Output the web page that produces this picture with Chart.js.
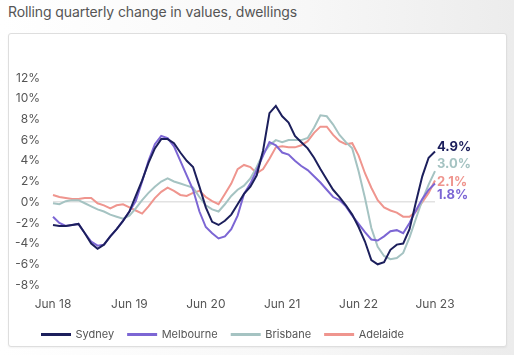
<!DOCTYPE html>
<html>
<head>
<meta charset="utf-8">
<script src="https://cdn.jsdelivr.net/npm/chart.js@4/dist/chart.umd.min.js"></script>
<style>
  html, body { margin: 0; padding: 0; }
  body { width: 514px; height: 355px; position: relative; overflow: hidden;
         background: linear-gradient(90deg, #ffffff 0%, #f7f7f7 60%, #ececec 100%); font-family: Inter, "Open Sans", sans-serif; }
  #title { position: absolute; left: 8px; top: 3px; font-size: 14px; color: #555; font-family: Inter, sans-serif; letter-spacing: -0.1px; }
  #box { position: absolute; left: 8px; top: 33px; width: 497px; height: 312px; background: #fff;
         border: 1px solid #dedede; border-radius: 3px; box-shadow: 0 1px 2px rgba(0,0,0,0.05); }
  #wrap { position: absolute; left: 0; top: 0; width: 514px; height: 355px; }
</style>
</head>
<body>
<div id="title">Rolling quarterly change in values, dwellings</div>
<div id="box"></div>
<div id="wrap"><canvas id="c" width="514" height="355"></canvas></div>
<script>
const months = [
  "Jun 18","Jul 18","Aug 18","Sep 18","Oct 18","Nov 18","Dec 18","Jan 19","Feb 19","Mar 19","Apr 19","May 19",
  "Jun 19","Jul 19","Aug 19","Sep 19","Oct 19","Nov 19","Dec 19","Jan 20","Feb 20","Mar 20","Apr 20","May 20",
  "Jun 20","Jul 20","Aug 20","Sep 20","Oct 20","Nov 20","Dec 20","Jan 21","Feb 21","Mar 21","Apr 21","May 21",
  "Jun 21","Jul 21","Aug 21","Sep 21","Oct 21","Nov 21","Dec 21","Jan 22","Feb 22","Mar 22","Apr 22","May 22",
  "Jun 22","Jul 22","Aug 22","Sep 22","Oct 22","Nov 22","Dec 22","Jan 23","Feb 23","Mar 23","Apr 23","May 23",
  "Jun 23"
];
const tickLabels = ["Jun 18","Jun 19","Jun 20","Jun 21","Jun 22","Jun 23"];
const yMin = -8, yMax = 12, yStep = 2;

const sydney = [
  -2.2,-2.3,-2.3,-2.2,-2.1,-3.0,-4.0,-4.5,-4.1,-3.3,-2.6,-1.8,
  -0.9,0.6,2.1,3.8,5.2,6.1,6.1,5.7,4.8,4.0,3.4,1.5,
  -0.5,-1.9,-2.2,-1.8,-1.2,-0.2,0.8,1.5,2.6,5.0,8.6,9.3,
  8.3,7.7,6.4,5.8,5.2,4.3,3.2,2.2,1.2,0.5,-0.3,-1.2,
  -2.4,-3.8,-5.6,-6.0,-5.8,-4.6,-4.1,-4.0,-2.6,0.0,2.5,4.3,
  4.9
];
const melbourne = [
  -1.4,-2.0,-2.3,-2.2,-2.1,-3.0,-3.8,-4.2,-4.1,-3.3,-2.6,-1.8,
  -0.9,0.1,2.0,4.0,5.6,6.4,6.2,5.4,4.0,2.6,1.2,-0.9,
  -2.4,-3.0,-3.5,-3.3,-2.6,-1.3,0.8,1.8,3.1,4.5,5.8,5.5,
  4.8,4.6,4.0,3.5,3.1,2.5,1.9,1.2,0.5,0.2,-0.4,-1.3,
  -2.1,-2.9,-3.6,-3.7,-3.3,-2.8,-2.7,-3.0,-2.0,-0.8,0.3,1.2,
  1.8
];
const brisbane = [
  -0.1,-0.2,0.1,0.2,0.2,-0.1,-0.4,-0.7,-0.9,-1.2,-1.4,-1.6,
  -1.3,-0.6,0.2,0.9,1.5,2.0,2.3,2.0,1.8,1.6,1.4,0.5,
  -0.3,-0.7,-0.9,-0.2,0.6,1.2,1.6,2.3,3.4,4.7,5.5,6.0,
  5.8,6.0,6.0,6.0,6.2,7.2,8.4,8.3,7.5,6.5,5.8,5.2,
  3.0,0.4,-2.5,-4.3,-5.2,-5.5,-5.4,-4.9,-3.4,-1.6,0.2,1.7,
  3.0
];
const adelaide = [
  0.7,0.5,0.4,0.3,0.3,0.4,0.4,-0.1,-0.3,-0.6,-0.3,-0.2,
  -0.5,-0.8,-1.1,-0.4,0.4,1.0,1.4,1.1,0.7,0.6,0.9,1.1,
  0.5,0.1,-0.2,0.8,1.8,3.2,3.6,3.4,2.8,3.2,4.2,5.3,
  5.4,5.3,5.3,5.5,5.9,6.7,7.3,7.3,6.5,5.9,5.6,5.7,
  4.5,2.8,1.4,0.2,-0.5,-0.8,-1.0,-1.4,-1.4,-0.9,0.0,0.9,
  2.1
];

const seriesNames = ["Sydney","Melbourne","Brisbane","Adelaide"];
const seriesColors = ["#1c1f5c","#7c66d4","#a5c3c2","#ef958e"];
const seriesData = [sydney, melbourne, brisbane, adelaide];
// vertical nudges (px) for the end-value labels: Sydney, Melbourne, Brisbane, Adelaide
const endLabelShift = [-4, 12, -7, 2];

const endLabels = {
  id: 'endLabels',
  afterDatasetsDraw(chart) {
    const ctx = chart.ctx;
    ctx.save();
    ctx.font = 'bold 13px Inter, sans-serif';
    ctx.textBaseline = 'middle';
    ctx.textAlign = 'left';
    chart.data.datasets.forEach((ds, i) => {
      const meta = chart.getDatasetMeta(i);
      const pt = meta.data[meta.data.length - 1];
      const v = ds.data[ds.data.length - 1];
      ctx.fillStyle = ds.borderColor;
      ctx.fillText(v.toFixed(1) + '%', pt.x + 2, pt.y + endLabelShift[i]);
    });
    ctx.restore();
  }
};

// nudge the legend to the right so it starts under the plot like the original
const legendShift = {
  id: 'legendShift',
  afterLayout(chart) {
    if (chart.legend) { chart.legend.left += 14; chart.legend.right += 14; }
  }
};

new Chart(document.getElementById('c'), {
  type: 'line',
  data: {
    labels: months,
    datasets: seriesNames.map((n, i) => ({
      label: n,
      data: seriesData[i],
      borderColor: seriesColors[i],
      backgroundColor: seriesColors[i],
      borderWidth: 2,
      pointRadius: 0,
      tension: 0,
      fill: false
    }))
  },
  options: {
    responsive: false,
    animation: false,
    events: [],
    layout: { padding: { left: 14, right: 79, top: 78, bottom: 5 } },
    plugins: {
      title: { display: false },
      tooltip: { enabled: false },
      legend: {
        position: 'bottom',
        align: 'start',
        labels: {
          boxWidth: 28,
          boxHeight: 1,
          padding: 14,
          color: '#555',
          font: { family: 'Inter, sans-serif', size: 11 }
        }
      }
    },
    scales: {
      x: {
        grid: { display: false, drawTicks: false },
        border: { display: false },
        ticks: {
          autoSkip: false,
          maxRotation: 0,
          padding: 12,
          color: '#555',
          font: { family: 'Inter, sans-serif', size: 12 },
          callback: function(val, idx) {
            const l = months[idx];
            return tickLabels.includes(l) ? l : null;
          }
        },
        afterFit(scale) { scale.height = 30; }
      },
      y: {
        min: yMin,
        max: yMax,
        grid: {
          drawTicks: false,
          color: (c) => c.tick && c.tick.value === 0 ? '#e2e2e2' : 'rgba(0,0,0,0)',
          lineWidth: 1.5
        },
        border: { display: false },
        ticks: {
          stepSize: yStep,
          padding: 13,
          color: '#555',
          font: { family: 'Inter, sans-serif', size: 12 },
          callback: (v) => v + '%'
        },
        afterFit(scale) { scale.width = 39; }
      }
    }
  },
  plugins: [endLabels, legendShift]
});
</script>
</body>
</html>
